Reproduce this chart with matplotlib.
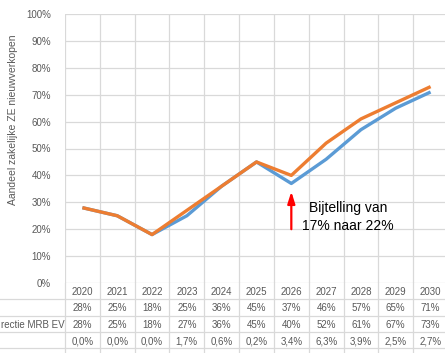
import matplotlib
matplotlib.use("Agg")
import matplotlib.pyplot as plt
from matplotlib.transforms import blended_transform_factory

years = ["2020", "2021", "2022", "2023", "2024", "2025", "2026", "2027", "2028", "2029", "2030"]
basis = [28, 25, 18, 25, 36, 45, 37, 46, 57, 65, 71]
projectie = [28, 25, 18, 27, 36, 45, 40, 52, 61, 67, 73]
verschil = [0.0, 0.0, 0.0, 1.7, 0.6, 0.2, 3.4, 6.3, 3.9, 2.5, 2.7]
row_labels = ["", "rectie MRB EV", ""]
yticks = list(range(0, 101, 10))

plt.rcParams['font.family'] = ['Liberation Sans', 'DejaVu Sans']
W, H = 445, 353
fig = plt.figure(figsize=(W / 100, H / 100), dpi=100)

left_px, right_px = 65, 448
top_px, bot_px = 14, 283
ax = fig.add_axes([left_px / W, 1 - bot_px / H, (right_px - left_px) / W, (bot_px - top_px) / H])

x = list(range(len(years)))
grid_c = "#D9D9D9"
txt_c = "#595959"

ax.plot(x, basis, color="#5B9BD5", lw=2.4, solid_capstyle="butt", zorder=3)
ax.plot(x, projectie, color="#ED7D31", lw=2.4, solid_capstyle="butt", zorder=4)

ax.set_xlim(-0.5, len(years) - 0.5)
ax.set_ylim(0, 100)
ax.set_yticks(yticks)
ax.set_yticklabels([f"{v}%" for v in yticks], color=txt_c, fontsize=7)
ax.set_xticks([])
ax.tick_params(axis="y", length=0, pad=10)
for s in ax.spines.values():
    s.set_visible(False)
for v in yticks:
    ax.axhline(v, color=grid_c, lw=0.9, zorder=1)
for i in range(len(years) + 1):
    ax.axvline(i - 0.5, color=grid_c, lw=0.9, zorder=1)

ax.set_ylabel("Aandeel zakelijke ZE nieuwverkopen", color=txt_c, fontsize=7.5)
ax.yaxis.set_label_coords(-47 / (right_px - left_px), (bot_px - 120) / (bot_px - top_px))

# data table below the plot
row_h = 16.3
tr = blended_transform_factory(ax.transData, fig.transFigure)
def fy(px):
    return 1 - px / H

rows = [years,
        [f"{v}%" for v in basis],
        [f"{v}%" for v in projectie],
        [f"{v:.1f}%".replace(".", ",") for v in verschil]]
for r, vals in enumerate(rows):
    yc = bot_px + row_h * (r + 0.5) + 1
    for i, t in enumerate(vals):
        ax.text(i, fy(yc), t, transform=tr, ha="center", va="center",
                fontsize=7, color=txt_c, clip_on=False)
for r, lab in enumerate(row_labels):
    yc = bot_px + row_h * (r + 1.5) + 1
    if lab:
        fig.text(1 / W, fy(yc), lab, ha="left", va="center", fontsize=7, color=txt_c)

# table grid
for r in range(1, 5):
    yy = fy(bot_px + row_h * r)
    fig.add_artist(plt.Line2D([0, 1], [yy, yy], color=grid_c, lw=0.9, transform=fig.transFigure))
for i in range(len(years) + 1):
    xx = (left_px + i * (right_px - left_px) / len(years)) / W
    fig.add_artist(plt.Line2D([xx, xx], [fy(bot_px), 0], color=grid_c, lw=0.9, transform=fig.transFigure))

# annotation
ax.annotate("", xy=(6, 34), xytext=(6, 20),
            arrowprops=dict(arrowstyle="-|>,head_length=0.7,head_width=0.22", color="red", lw=1.6,
                            shrinkA=0, shrinkB=0))
ax.text(7.62, 24.5, "Bijtelling van\n17% naar 22%", ha="center", va="center",
        fontsize=10, color="black", linespacing=1.35)

fig.savefig("out.png", dpi=100, facecolor="white")
